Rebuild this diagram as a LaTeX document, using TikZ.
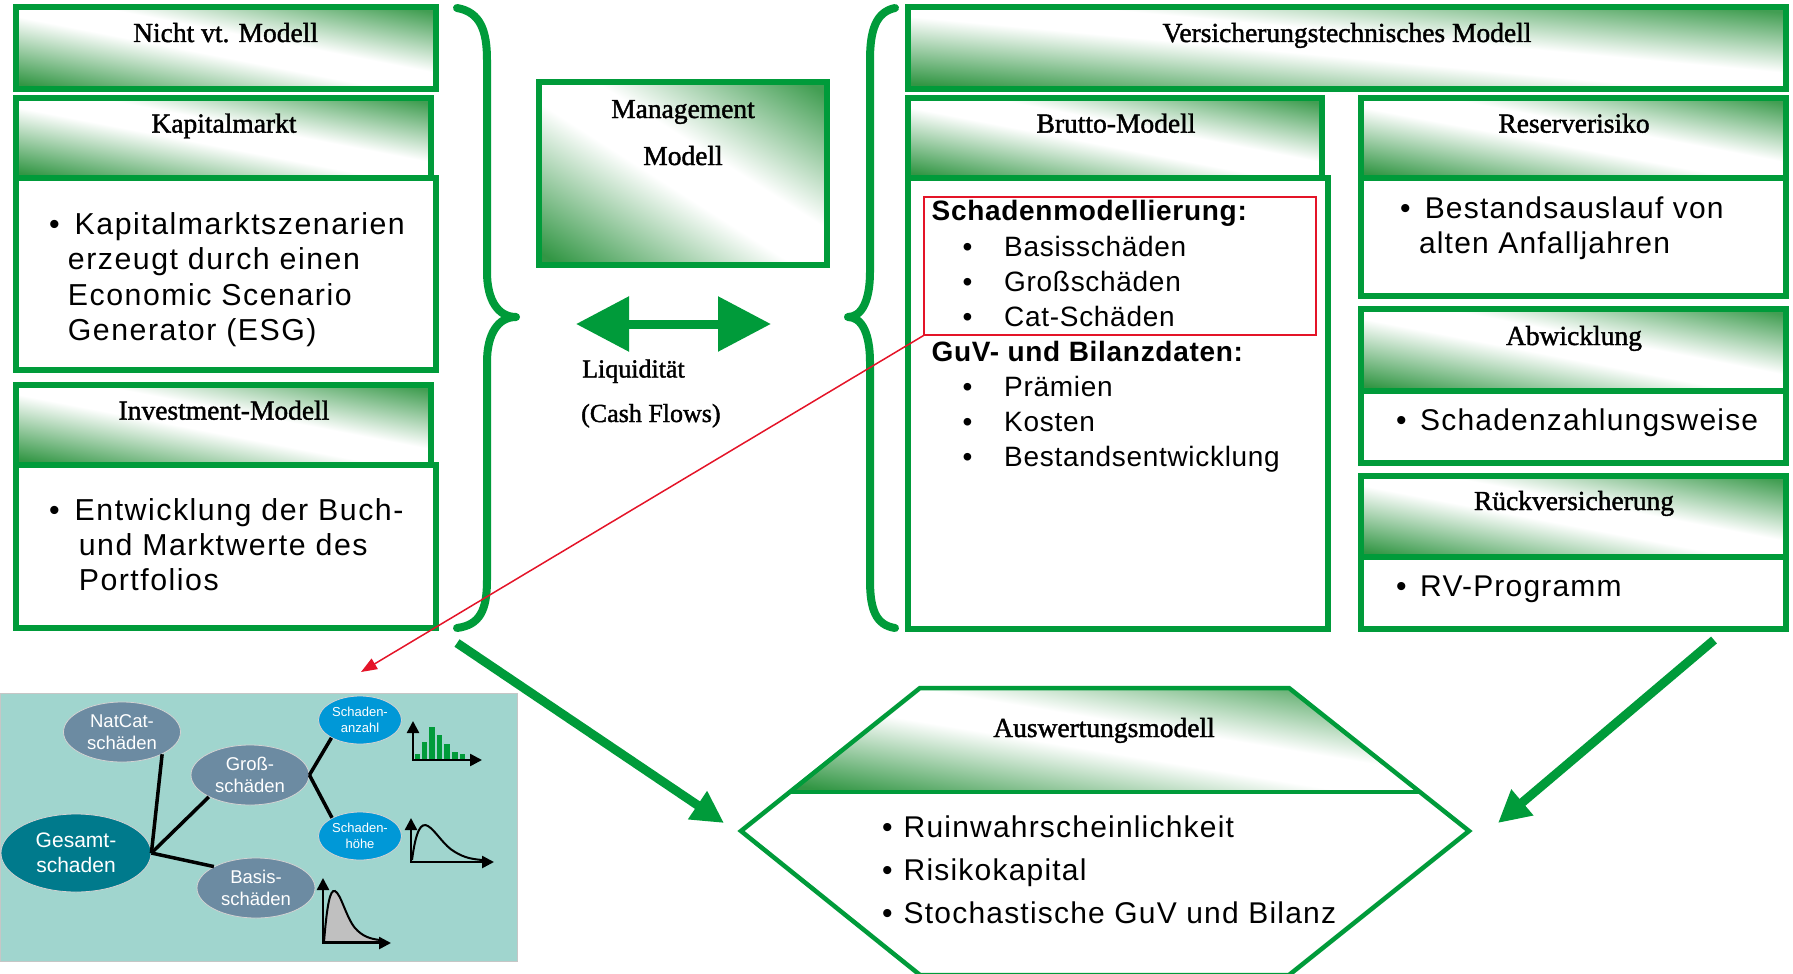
\documentclass[tikz,border=0pt]{standalone}
\usepackage{fontspec}
\usetikzlibrary{fit,shapes.geometric,arrows.meta}
\newfontfamily\ttlfont[FakeBold=1.5]{Liberation Serif}
\newfontfamily\bodyfont[LetterSpace=4]{Liberation Sans}
\newfontfamily\leftfont[LetterSpace=5]{Liberation Sans}
\newfontfamily\bruttofont[LetterSpace=2.5]{Liberation Sans}
\newfontfamily\panelfont{Liberation Sans}
\definecolor{vgreen}{RGB}{0,155,58}
\definecolor{ggreen}{RGB}{50,150,68}
\definecolor{panelbg}{RGB}{160,213,206}
\definecolor{gesamtc}{RGB}{0,122,140}
\definecolor{subc}{RGB}{108,139,162}
\definecolor{schadc}{RGB}{0,152,215}
\definecolor{redc}{RGB}{228,20,40}
\definecolor{grayfill}{RGB}{192,192,192}
\pgfdeclareverticalshading{gshadev}{100bp}{color(0bp)=(ggreen); color(17bp)=(ggreen); color(46bp)=(white); color(57bp)=(white); color(83bp)=(ggreen!92); color(100bp)=(ggreen!92)}
\newcommand{\gradfill}[4]{%
  \pgfmathsetmacro{\gcx}{(#1+#3)/2}%
  \pgfmathsetmacro{\gcy}{(#2+#4)/2}%
  \pgfmathsetmacro{\gsx}{(#3-#1)/100}%
  \pgfmathsetmacro{\gsy}{(#4-#2)/100}%
  \begin{scope}[transform canvas={shift={(\gcx,\gcy)}, xscale=\gsx, yscale=\gsy}]
    \shade[shading=gshadev, shading angle=-45] (-50,-50) rectangle (50,50);
  \end{scope}}
\newcommand{\gbox}[5]{\gradfill{#2}{#3}{#4}{#5}\node[gradbox, fit={(#2,#3) (#4,#5)}] (#1) {};}
\tikzset{
  gradbox/.style={draw=vgreen, line width=6pt, inner sep=0pt},
  bodybox/.style={draw=vgreen, line width=6pt, inner sep=0pt, fill=white},
  ttl/.style={anchor=base, inner sep=0pt, font=\ttlfont\fontsize{27.5}{33}\selectfont},
  ttlw/.style={anchor=base west, inner sep=0pt, font=\ttlfont\fontsize{26}{31}\selectfont},
  btx/.style={anchor=base west, inner sep=0pt, font=\bodyfont\fontsize{30}{36}\selectfont},
  ltx/.style={anchor=base west, inner sep=0pt, font=\leftfont\fontsize{30.3}{36}\selectfont},
  brx/.style={anchor=base west, inner sep=0pt, font=\bruttofont\fontsize{28}{34}\selectfont},
  brb/.style={anchor=base west, inner sep=0pt, font=\bruttofont\bfseries\fontsize{28}{34}\selectfont},
  ell/.style={ellipse, draw=gray!35, line width=0.8pt, inner sep=0pt, align=center, text=white},
  conn/.style={line width=3.5pt, black},
  brace/.style={draw=vgreen, line width=8pt, line cap=round, line join=round},
  bigarrow/.style={vgreen, line width=9pt, -{Triangle[length=32pt,width=32pt]}},
  axisarrow/.style={line width=2.5pt, {Triangle[length=12pt,width=12pt]}-{Triangle[length=12pt,width=12pt]}},
}
\begin{document}
\begin{tikzpicture}[x=1pt,y=-1pt]
\useasboundingbox (0,0) rectangle (1793,974);

% ---------- lower-left panel ----------
\node[fit={(0,693) (517,961)}, fill=panelbg, draw=gray!45, line width=1pt, inner sep=0pt] (panel) {};
\node[ell, fill=gesamtc, minimum width=150pt, minimum height=78pt, font=\panelfont\fontsize{21}{25}\selectfont] (gesamt) at (76,853) {Gesamt-\\schaden};
\node[ell, fill=subc, minimum width=117pt, minimum height=60pt, font=\panelfont\fontsize{18.5}{21.7}\selectfont] (natcat) at (122,732) {NatCat-\\schäden};
\node[ell, fill=subc, minimum width=118pt, minimum height=60pt, font=\panelfont\fontsize{18.5}{21.7}\selectfont] (gross) at (250,775) {Groß-\\schäden};
\node[ell, fill=subc, minimum width=118pt, minimum height=60pt, font=\panelfont\fontsize{18.5}{21.7}\selectfont] (basis) at (256,888) {Basis-\\schäden};
\node[ell, fill=schadc, minimum width=83pt, minimum height=48pt, font=\panelfont\fontsize{13}{15.7}\selectfont] (anzahl) at (360,720) {Schaden-\\anzahl};
\node[ell, fill=schadc, minimum width=83pt, minimum height=48pt, font=\panelfont\fontsize{13}{15.7}\selectfont] (hoehe) at (360,836) {Schaden-\\höhe};
\draw[conn] (gesamt.east) -- (natcat.-29);
\draw[conn] (gesamt.east) -- (gross.-152);
\draw[conn] (gesamt.east) -- (basis.153);
\draw[conn] (gross.east) -- (anzahl.-148);
\draw[conn] (gross.east) -- (hoehe.147);

% bar chart
\foreach \xc/\yt in {417.5/754, 424.3/741.7, 432/726.7, 439.5/735, 447/744, 454.7/751.7, 462.5/754.3}
  \fill[vgreen] (\xc-2.8,760) rectangle (\xc+2.8,\yt);
\draw[axisarrow] (413,721) -- (413,760) -- (482,760);
% severity curve
\draw[line width=2pt] (412,860) .. controls (416,830) and (421,822) .. (428,826) .. controls (436,831) and (444,846) .. (455,852) .. controls (465,858) and (472,859) .. (482,860);
\draw[axisarrow] (411,818) -- (411,862) -- (494,862);
% basis curve
\filldraw[fill=grayfill, draw=black, line width=2pt] (324,942) .. controls (327,905) and (330,889) .. (335,891) .. controls (341,894) and (346,917) .. (355,928) .. controls (362,936) and (370,939) .. (380,940) -- (380,942) -- cycle;
\draw[axisarrow] (323,878) -- (323,943) -- (391,943);

% ---------- big green arrows ----------
\coordinate (la1) at (457,643);
\coordinate (la2) at (724,823);
\coordinate (ra1) at (1714,640);
\coordinate (ra2) at (1498,823);
\draw[bigarrow] (la1) -- (la2);
\draw[bigarrow] (ra1) -- (ra2);

% ---------- hexagon ----------
\fill[white] (920,688) -- (1289,688) -- (1469,831) -- (1289,975) -- (920,975) -- (741,831) -- cycle;
\begin{scope}
  \clip (920,688) -- (1289,688) -- (1420,792) -- (790,792) -- cycle;
  \gradfill{790}{688}{1420}{792}
\end{scope}
\draw[vgreen, line width=4.5pt, line join=miter] (920,688) -- (1289,688) -- (1469,831) -- (1289,975) -- (920,975) -- (741,831) -- cycle;
\draw[vgreen, line width=4.5pt] (790,792) -- (1420,792);
\node[ttl] (t-ausw) at (1104,737) {Auswertungsmodell};
\node[btx] (h1) at (882,837) {\makebox[21.5pt][l]{•}Ruinwahrscheinlichkeit};
\node[btx] (h2) at (882,880) {\makebox[21.5pt][l]{•}Risikokapital};
\node[btx] (h3) at (882,923) {\makebox[21.5pt][l]{•}Stochastische GuV und Bilanz};

% ---------- left column ----------
\gbox{nvm}{16}{7}{436}{89}
\node[bodybox, fit={(16,178) (436,370)}] (kapb) {};
\gbox{kaph}{16}{98}{431}{178}
\node[bodybox, fit={(16,465) (436,628)}] (invb) {};
\gbox{invh}{16}{385}{431}{465}
\node[ttl] (t-nvm) at (225.6,42) {Nicht vt. Modell};
\node[ttl] (t-kap) at (224,132.6) {Kapitalmarkt};
\node[ttl] (t-inv) at (224,419.6) {Investment-Modell};
\node[ltx] (k1) at (49,234) {\makebox[25.5pt][l]{•}Kapitalmarktszenarien};
\node[ltx] (k2) at (67.7,269) {erzeugt durch einen};
\node[ltx] (k3) at (67.7,305) {Economic Scenario};
\node[ltx] (k4) at (67.7,340) {Generator (ESG)};
\node[ltx] (i1) at (49,520) {\makebox[25.5pt][l]{•}Entwicklung der Buch-};
\node[ltx] (i2) at (78.6,555) {und Marktwerte des};
\node[ltx] (i3) at (78.6,590) {Portfolios};

% ---------- braces ----------
\draw[brace] (457,8) .. controls (480,12) and (487,30) .. (487,60) -- (487,272) .. controls (487,300) and (498,317) .. (516,317) .. controls (498,317) and (487,334) .. (487,362) -- (487,580) .. controls (487,610) and (480,625) .. (457,628);
\draw[brace] (895,8) .. controls (876,12) and (870,30) .. (870,60) -- (870,272) .. controls (870,300) and (862,317) .. (848,317) .. controls (862,317) and (870,334) .. (870,362) -- (870,580) .. controls (870,610) and (876,625) .. (895,628);

% ---------- management ----------
\gbox{mgmt}{539}{82}{827}{265}
\node[ttl] (t-mg1) at (683,118) {Management};
\node[ttl] (t-mg2) at (683,165) {Modell};
\coordinate (dl) at (576,324);
\coordinate (dr) at (771,324);
\draw[vgreen, line width=9pt, {Triangle[length=53pt,width=53pt]}-{Triangle[length=53pt,width=53pt]}] (dl) -- (dr);
\node[ttlw] (liq) at (582,377.5) {Liquidität};
\node[ttlw] (cf) at (581,422) {(Cash Flows)};

% ---------- right column ----------
\gbox{vtm}{908}{7}{1786}{89}
\node[bodybox, fit={(908,178) (1328,629)}] (brb) {};
\gbox{brh}{908}{98}{1322}{178}
\node[bodybox, fit={(1361,178) (1786,296)}] (resb) {};
\gbox{resh}{1361}{98}{1786}{178}
\node[bodybox, fit={(1361,391) (1786,463)}] (abwb) {};
\gbox{abwh}{1361}{309}{1786}{391}
\node[bodybox, fit={(1361,557) (1786,629)}] (rvb) {};
\gbox{rvh}{1361}{476}{1786}{557}
\node[ttl] (t-vtm) at (1347,42) {Versicherungstechnisches Modell};
\node[ttl] (t-br) at (1116,132.6) {Brutto-Modell};
\node[ttl] (t-res) at (1574,132.6) {Reserverisiko};
\node[ttl] (t-abw) at (1574,345) {Abwicklung};
\node[ttl] (t-rv) at (1574,510) {Rückversicherung};

\node[draw=redc, line width=1.2pt, fit={(924,197) (1316,335)}, inner sep=0pt] (redbox) {};
\node[brb] (b0) at (931.5,220.4) {Schadenmodellierung:};
\node[brx] (b1) at (962.5,256) {\makebox[41.5pt][l]{•}Basisschäden};
\node[brx] (b2) at (962.5,291) {\makebox[41.5pt][l]{•}Großschäden};
\node[brx] (b3) at (962.5,326) {\makebox[41.5pt][l]{•}Cat-Schäden};
\node[brb] (b4) at (931.5,361) {GuV- und Bilanzdaten:};
\node[brx] (b5) at (962.5,396) {\makebox[41.5pt][l]{•}Prämien};
\node[brx] (b6) at (962.5,431) {\makebox[41.5pt][l]{•}Kosten};
\node[brx] (b7) at (962.5,466) {\makebox[41.5pt][l]{•}Bestandsentwicklung};

\node[btx] (r1) at (1400,218) {\makebox[24.6pt][l]{•}Bestandsauslauf von};
\node[btx] (r2) at (1418.8,253) {alten Anfalljahren};
\node[btx] (a1) at (1396,430.6) {\makebox[24pt][l]{•}Schadenzahlungsweise};
\node[btx] (v1) at (1396,596) {\makebox[24pt][l]{•}RV-Programm};

% ---------- red connector ----------
\coordinate (rtip) at (361,672);
\draw[redc, line width=1.5pt, -{Triangle[length=16pt,width=12pt]}] (redbox.south west) -- (rtip);
\end{tikzpicture}
\end{document}
